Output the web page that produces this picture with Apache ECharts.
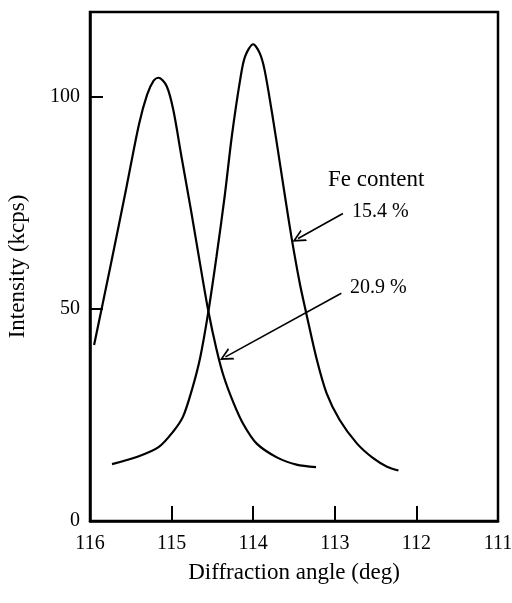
<!DOCTYPE html>
<html>
	<head>
		<meta charset="UTF-8">
		<script type="text/javascript" src="https://cdn.jsdelivr.net/npm/echarts@6/dist/echarts.min.js"></script>
		<title></title>
		<style>
			html, body { margin: 0; padding: 0; background: #fff; }
		</style>
	</head>
	<body>
		<div id="graph" style="width: 512px; height: 603px;"></div>
	</body>
	<script>
		// Fe content 20.9 % (left peak)
		var angle209 = [115.95, 115.75, 115.55, 115.40, 115.30, 115.22, 115.16, 115.06, 114.98, 114.88, 114.76, 114.65, 114.55, 114.45, 114.36, 114.24, 114.12, 113.96, 113.71, 113.47, 113.23];
		var int209   = [41.5, 60.0, 79.0, 93.5, 100.5, 103.8, 104.5, 102.5, 97.0, 86.0, 73.0, 60.5, 49.5, 40.5, 34.0, 27.8, 22.8, 18.3, 15.0, 13.3, 12.7];
		// Fe content 15.4 % (right peak)
		var angle154 = [115.73, 115.41, 115.16, 114.98, 114.86, 114.75, 114.65, 114.55, 114.45, 114.35, 114.26, 114.16, 114.10, 114.00, 113.92, 113.86, 113.77, 113.69, 113.61, 113.53, 113.43, 113.35, 113.22, 113.10, 112.94, 112.73, 112.53, 112.36, 112.22];
		var int154   = [13.4, 15.2, 17.4, 21.1, 24.6, 31.0, 38.5, 49.3, 62.3, 76.5, 91.0, 104.0, 109.5, 112.4, 110.3, 106.3, 96.3, 86.5, 76.5, 66.8, 56.1, 49.0, 38.0, 30.1, 23.8, 18.3, 14.8, 12.8, 11.9];

		var xTickLabels = [116, 115, 114, 113, 112, 111];
		var yTickLabels = [0, 50, 100];

		function pairs(xs, ys) {
			var out = [];
			for (var i = 0; i < xs.length; i++) out.push([xs[i], ys[i]]);
			return out;
		}

		var serif = '"Liberation Serif", "DejaVu Serif", serif';
		// open "V" arrow head
		var chevron = 'path://M0,0L6,12L4.2,12L0,3.6L-4.2,12L-6,12Z';

		function arrow(from, to) {
			return [{ coord: from, symbol: 'none' }, { coord: to, symbol: chevron }];
		}

		function pointer(from, to) {
			return {
				silent: true,
				symbolSize: [13, 13],
				label: { show: false },
				lineStyle: { color: '#000', width: 1.6, type: 'solid' },
				itemStyle: { color: '#000' },
				data: [arrow(from, to)]
			};
		}

		var myChart = echarts.init(document.getElementById('graph'), null, { renderer: 'canvas' });
		var option = {
			animation: false,
			backgroundColor: '#fff',
			grid: {
				left: 90, right: 14, top: 12, bottom: 82,
				outerBoundsMode: 'none',
				show: true, borderColor: '#000', borderWidth: 2.5
			},
			xAxis: {
				type: 'value',
				inverse: true,
				min: 111, max: 116, interval: 1,
				splitLine: { show: false },
				axisLine: { lineStyle: { color: '#000', width: 2.5 } },
				axisTick: { inside: true, length: 15, lineStyle: { color: '#000', width: 2 },
					customValues: [115, 114, 113, 112] },
				axisLabel: { color: '#000', fontFamily: serif, fontSize: 20, margin: 13,
					customValues: xTickLabels },
				name: 'Diffraction angle (deg)',
				nameLocation: 'middle',
				nameGap: 40,
				nameTextStyle: { color: '#000', fontFamily: serif, fontSize: 23 }
			},
			yAxis: {
				type: 'value',
				min: 0, max: 120, interval: 50,
				splitLine: { show: false },
				axisLine: { lineStyle: { color: '#000', width: 2.5 } },
				axisTick: { inside: true, length: 13, lineStyle: { color: '#000', width: 2 },
					customValues: [50, 100] },
				axisLabel: { color: '#000', fontFamily: serif, fontSize: 20, margin: 10,
					customValues: yTickLabels },
				name: 'Intensity (kcps)',
				nameLocation: 'middle',
				nameGap: 61,
				nameTextStyle: { color: '#000', fontFamily: serif, fontSize: 23 }
			},
			series: [
				{
					name: '20.9 %',
					type: 'line',
					data: pairs(angle209, int209),
					smooth: 0.3,
					showSymbol: false,
					lineStyle: { color: '#000', width: 2.2 },
					markLine: pointer([112.92, 53.7], [114.34, 38.7])
				},
				{
					name: '15.4 %',
					type: 'line',
					data: pairs(angle154, int154),
					smooth: 0.3,
					showSymbol: false,
					lineStyle: { color: '#000', width: 2.2 },
					markLine: pointer([112.90, 72.5], [113.45, 66.6])
				}
			],
			graphic: [
				{ type: 'text', left: 328, top: 168,
					style: { text: 'Fe content', fill: '#000', font: '23px ' + serif } },
				{ type: 'text', left: 352, top: 202,
					style: { text: '15.4 %', fill: '#000', font: '20px ' + serif } },
				{ type: 'text', left: 350, top: 278,
					style: { text: '20.9 %', fill: '#000', font: '20px ' + serif } }
			]
		};
		myChart.setOption(option);
	</script>
</html>
